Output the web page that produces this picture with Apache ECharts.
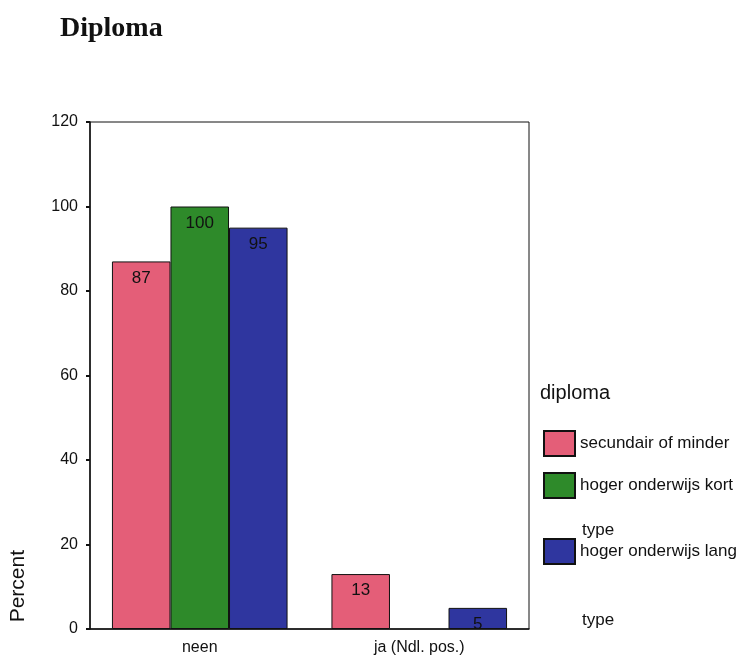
<!DOCTYPE html>
<html><head><meta charset="utf-8">
<script src="https://cdn.jsdelivr.net/npm/echarts@6/dist/echarts.min.js"></script>
<style>html,body{margin:0;padding:0;background:#fff}#c{width:739px;height:659px}</style>
</head><body><div id="c"></div>
<script>
const categories = ['neen', 'ja (Ndl. pos.)'];
const seriesNames = ['secundair of minder', 'hoger onderwijs kort type', 'hoger onderwijs lang type'];
const secundair = [87, 13];
const hogerKort = [100, null];
const hogerLang = [95, 5];
const yTicks = [0, 20, 40, 60, 80, 100, 120];
const colors = ['#e45e78', '#2e8a2a', '#2f369f'];

const chart = echarts.init(document.getElementById('c'), null, {renderer: 'canvas'});
const font = 'Arial, "Liberation Sans", sans-serif';
const values = [secundair, hogerKort, hogerLang];
const legendTops = [430, 472, 538];
const legendFirstLines = ['secundair of minder', 'hoger onderwijs kort', 'hoger onderwijs lang'];
const legendSecondLines = [null, 'type', 'type'];
const secondLineY = [null, 530, 620];

chart.setOption({
  animation: false,
  textStyle: {fontFamily: font},
  title: [
    {text: 'Diploma', left: 55, top: 10,
     textStyle: {fontFamily: '"Liberation Serif", "Times New Roman", serif', fontWeight: 'bold', fontSize: 28, color: '#111'}},
    {text: 'diploma', left: 535, top: 378,
     textStyle: {fontFamily: font, fontWeight: 'normal', fontSize: 20, color: '#111'}}
  ],
  legend: seriesNames.map((n, i) => ({
    data: [n], left: 543, top: legendTops[i], orient: 'vertical', padding: 0,
    itemWidth: 31, itemHeight: 25, itemGap: 0, icon: 'rect',
    selectedMode: false,
    formatter: () => legendFirstLines[i],
    textStyle: {fontFamily: font, fontSize: 17, color: '#111'}
  })),
  grid: {left: 90, right: 210, top: 122, bottom: 30, show: true, borderColor: '#111', borderWidth: 1, backgroundColor: 'transparent'},
  xAxis: {
    type: 'category', data: categories,
    axisLine: {lineStyle: {color: '#111', width: 1.5}},
    axisTick: {alignWithLabel: true, length: 4, lineStyle: {color: '#111', width: 2}},
    axisLabel: {fontSize: 16, color: '#111', margin: 11}
  },
  yAxis: {
    type: 'value', min: yTicks[0], max: yTicks[yTicks.length - 1], interval: 20,
    axisLine: {show: true, lineStyle: {color: '#111', width: 1.5}},
    axisTick: {show: true, length: 4, lineStyle: {color: '#111', width: 2}},
    splitLine: {show: false},
    axisLabel: {fontSize: 16, color: '#111', margin: 12}
  },
  graphic: [
    {type: 'text', left: 8, top: 550, rotation: Math.PI / 2,
     style: {text: 'Percent', font: '21px ' + font, fill: '#111'}}
  ].concat(legendSecondLines.map((t, i) => t ? {
     type: 'text', x: 582, y: secondLineY[i],
     style: {text: t, font: '17px ' + font, fill: '#111', verticalAlign: 'middle'}
  } : null).filter(Boolean)),
  series: seriesNames.map((n, i) => ({
    name: n, type: 'bar', data: values[i],
    barGap: '0%', barCategoryGap: '20%',
    itemStyle: {color: colors[i], borderColor: '#111', borderWidth: 1},
    label: {show: true, position: 'insideTop', distance: 8, fontSize: 17, color: '#111'}
  }))
});
</script></body></html>
